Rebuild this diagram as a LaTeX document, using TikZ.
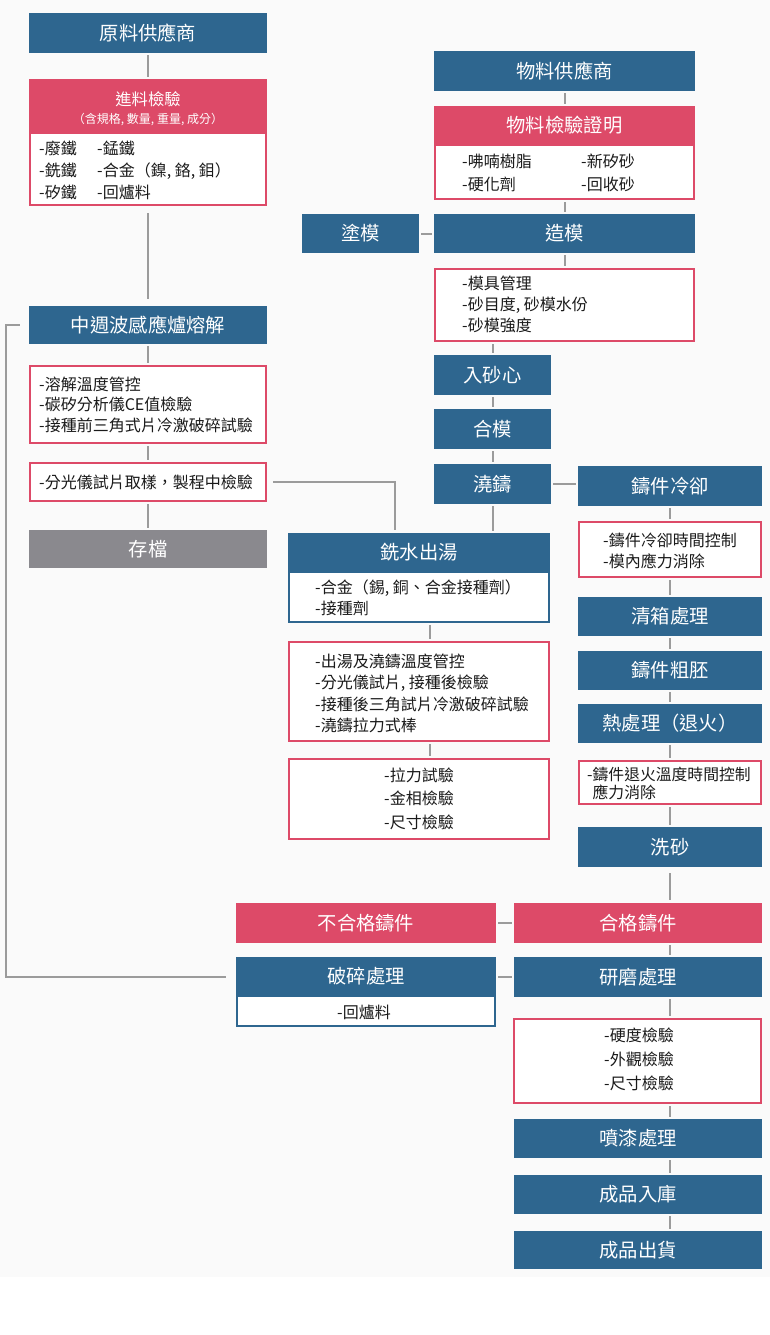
\documentclass[tikz,border=0pt]{standalone}
\usepackage{fontspec}
\setmainfont{Noto Sans CJK TC}
\usetikzlibrary{calc}
\definecolor{cblue}{HTML}{2E668F}
\definecolor{cpink}{HTML}{DD4A68}
\definecolor{cgray}{HTML}{8A898E}
\definecolor{cline}{HTML}{9B9B9B}
\definecolor{ctext}{HTML}{1A1A1A}
\definecolor{cbg}{HTML}{FAFAFA}
\tikzset{
  hbox/.style={inner sep=0, text=white, font=\fontsize{19.3}{23}\selectfont},
  bluebox/.style={hbox, fill=cblue},
  pinkbox/.style={hbox, fill=cpink},
  graybox/.style={hbox, fill=cgray},
  pinkframe/.style={draw=cpink, line width=2.4pt, fill=white, inner sep=0},
  blueframe/.style={draw=cblue, line width=2.4pt, fill=white, inner sep=0},
  txt/.style={inner sep=0, text=ctext, align=left, anchor=west},
  conn/.style={draw=cline, line width=2pt, shorten <=2pt, shorten >=2pt},
}
\begin{document}
\begin{tikzpicture}[x=1pt,y=-1pt]
\useasboundingbox (0,0) rectangle (770,1335);
\fill[cbg] (0,0) rectangle (770,1277);

% ---------- left column ----------
\node[bluebox, minimum width=238, minimum height=40] (n1) at (148,33) {原料供應商};
\node[pinkbox, minimum width=238, minimum height=54] (n2h) at (148,106) {};
\node[inner sep=0, text=white, font=\fontsize{16.3}{20}\selectfont] (n2t) at (148,99) {進料檢驗};
\node[inner sep=0, text=white, font=\fontsize{12}{14}\selectfont] (n2s) at (148,120) {（含規格, 數量, 重量, 成分）};
\node[pinkframe, minimum width=235.6, minimum height=72] (n2b) at (148,168.8) {};
\node[txt, font=\fontsize{16}{22}\selectfont] (n2c1) at (39,170) {-廢鐵\\-銑鐵\\-矽鐵};
\node[txt, font=\fontsize{16}{22}\selectfont] (n2c2) at (97,170) {-錳鐵\\-合金（鎳, 鉻, 鉬）\\-回爐料};

\node[bluebox, minimum width=238, minimum height=38] (n3) at (148,325) {中週波感應爐熔解};
\node[pinkframe, minimum width=235.6, minimum height=76.6] (n4) at (148,404.5) {};
\node[txt, font=\fontsize{16}{20.5}\selectfont] (n4t) at (39,404.5) {-溶解溫度管控\\-碳矽分析儀CE值檢驗\\-接種前三角式片冷激破碎試驗};
\node[pinkframe, minimum width=235.6, minimum height=37.6] (n5) at (148,482) {};
\node[txt, font=\fontsize{16}{20}\selectfont] (n5t) at (39,482) {-分光儀試片取樣，製程中檢驗};
\node[graybox, minimum width=238, minimum height=38] (n6) at (148,549) {存檔};

% ---------- upper right ----------
\node[bluebox, minimum width=261, minimum height=40] (r1) at (564.5,71) {物料供應商};
\node[pinkbox, minimum width=261, minimum height=39] (r2h) at (564.5,125.5) {物料檢驗證明};
\node[pinkframe, minimum width=258.6, minimum height=53.8] (r2b) at (564.5,171.9) {};
\node[txt, font=\fontsize{16}{23}\selectfont] (r2c1) at (462,172.5) {-咈喃樹脂\\-硬化劑};
\node[txt, font=\fontsize{16}{23}\selectfont] (r2c2) at (581,172.5) {-新矽砂\\-回收砂};
\node[bluebox, minimum width=261, minimum height=39] (r3) at (564.5,233.5) {造模};
\node[bluebox, minimum width=117, minimum height=39] (r0) at (360.5,233.5) {塗模};
\node[pinkframe, minimum width=258.6, minimum height=71.6] (r4) at (564.5,305) {};
\node[txt, font=\fontsize{16}{21}\selectfont] (r4t) at (462,304) {-模具管理\\-砂目度, 砂模水份\\-砂模強度};
\node[bluebox, minimum width=117, minimum height=40] (r5) at (492.5,375) {入砂心};
\node[bluebox, minimum width=117, minimum height=40] (r6) at (492.5,429) {合模};
\node[bluebox, minimum width=117, minimum height=40] (r7) at (492.5,484) {澆鑄};

% ---------- middle column ----------
\node[bluebox, minimum width=262, minimum height=39] (m7h) at (419,552.5) {銑水出湯};
\node[blueframe, minimum width=259.6, minimum height=49.8] (m7b) at (419,596.9) {};
\node[txt, font=\fontsize{16}{21}\selectfont] (m7t) at (315,597.5) {-合金（錫, 銅、合金接種劑）\\-接種劑};
\node[pinkframe, minimum width=259.6, minimum height=98.6] (m8) at (419,691.5) {};
\node[txt, font=\fontsize{16}{21.3}\selectfont] (m8t) at (315,693.5) {-出湯及澆鑄溫度管控\\-分光儀試片, 接種後檢驗\\-接種後三角試片冷激破碎試驗\\-澆鑄拉力式棒};
\node[pinkframe, minimum width=259.6, minimum height=79.6] (m9) at (419,799) {};
\node[txt, font=\fontsize{16}{23.5}\selectfont] (m9t) at (384,798.5) {-拉力試驗\\-金相檢驗\\-尺寸檢驗};

% ---------- right column ----------
\node[bluebox, minimum width=184, minimum height=40] (k1) at (670,486) {鑄件冷卻};
\node[pinkframe, minimum width=181.6, minimum height=54.6] (k2) at (670,549.5) {};
\node[txt, font=\fontsize{16}{21}\selectfont] (k2t) at (603,550.5) {-鑄件冷卻時間控制\\-模內應力消除};
\node[bluebox, minimum width=184, minimum height=39] (k3) at (670,616.5) {清箱處理};
\node[bluebox, minimum width=184, minimum height=39] (k4) at (670,670.5) {鑄件粗胚};
\node[bluebox, minimum width=184, minimum height=39] (k5) at (670,723.5) {熱處理（退火）};
\node[pinkframe, minimum width=181.6, minimum height=42.6] (k6) at (670,782.5) {};
\node[txt, font=\fontsize{15.8}{18}\selectfont] (k6t) at (587,783) {-鑄件退火溫度時間控制\\\phantom{-}應力消除};
\node[bluebox, minimum width=184, minimum height=40] (k7) at (670,847) {洗砂};

% ---------- bottom ----------
\node[pinkbox, minimum width=260, minimum height=40] (b1) at (366,923) {不合格鑄件};
\node[pinkbox, minimum width=248, minimum height=40] (b2) at (638,923) {合格鑄件};
\node[bluebox, minimum width=260, minimum height=39] (b3h) at (366,976.5) {破碎處理};
\node[blueframe, minimum width=257.6, minimum height=29.8] (b3b) at (366,1010.9) {};
\node[inner sep=0, text=ctext, font=\fontsize{16}{20}\selectfont] (b3t) at (364,1012) {-回爐料};
\node[bluebox, minimum width=248, minimum height=40] (b4) at (638,977) {研磨處理};
\node[pinkframe, minimum width=246.6, minimum height=83.6] (b5) at (637.5,1061) {};
\node[txt, font=\fontsize{16}{24}\selectfont] (b5t) at (604,1059) {-硬度檢驗\\-外觀檢驗\\-尺寸檢驗};
\node[bluebox, minimum width=248, minimum height=39] (b6) at (638,1138.5) {噴漆處理};
\node[bluebox, minimum width=248, minimum height=39] (b7) at (638,1194.5) {成品入庫};
\node[bluebox, minimum width=248, minimum height=38] (b8) at (638,1250) {成品出貨};

% ---------- connectors ----------
\coordinate (jx) at (395,0);
\coordinate (fb) at (6,0);
\coordinate (mx) at (430,0);
\coordinate (rx) at (670,0);

\draw[conn] (n1.south) -- (n2h.north);
\draw[conn, shorten <=7pt, shorten >=7pt] (n2b.south) -- (n3.north);
\draw[conn] (n3.south) -- (n4.north);
\draw[conn] (n4.south) -- (n5.north);
\draw[conn] (n5.south) -- (n6.north);
\draw[conn, shorten <=6pt, shorten >=3pt] (n5.east) -| (jx |- m7h.north);
\draw[conn, shorten <=10pt, shorten >=9pt] (b3h.west) -| (fb |- n3.west) -- (n3.west);

\draw[conn] (r1.south) -- (r2h.north);
\draw[conn] (r2b.south) -- (r3.north);
\draw[conn] (r0.east) -- (r3.west);
\draw[conn] (r3.south) -- (r4.north);
\draw[conn] (r5.north |- r4.south) -- (r5.north);
\draw[conn] (r5.south) -- (r6.north);
\draw[conn] (r6.south) -- (r7.north);
\draw[conn] (r7.south) -- (r7.south |- m7h.north);
\draw[conn] (r7.east) -- (r7.east -| k1.west);
\draw[conn] (mx |- m7b.south) -- (mx |- m8.north);
\draw[conn] (mx |- m8.south) -- (mx |- m9.north);

\draw[conn] (k1.south) -- (k2.north);
\draw[conn] (k2.south) -- (k3.north);
\draw[conn] (k3.south) -- (k4.north);
\draw[conn] (k4.south) -- (k5.north);
\draw[conn] (k5.south) -- (k6.north);
\draw[conn] (k6.south) -- (k7.north);
\draw[conn, shorten <=6pt, shorten >=3pt] (k7.south) -- (rx |- b2.north);
\draw[conn] (b2.west) -- (b1.east);
\draw[conn] (rx |- b2.south) -- (rx |- b4.north);
\draw[conn] (b4.west) -- (b4.west -| b3h.east);
\draw[conn] (rx |- b4.south) -- (rx |- b5.north);
\draw[conn] (rx |- b5.south) -- (rx |- b6.north);
\draw[conn] (rx |- b6.south) -- (rx |- b7.north);
\draw[conn] (rx |- b7.south) -- (rx |- b8.north);
\end{tikzpicture}
\end{document}
